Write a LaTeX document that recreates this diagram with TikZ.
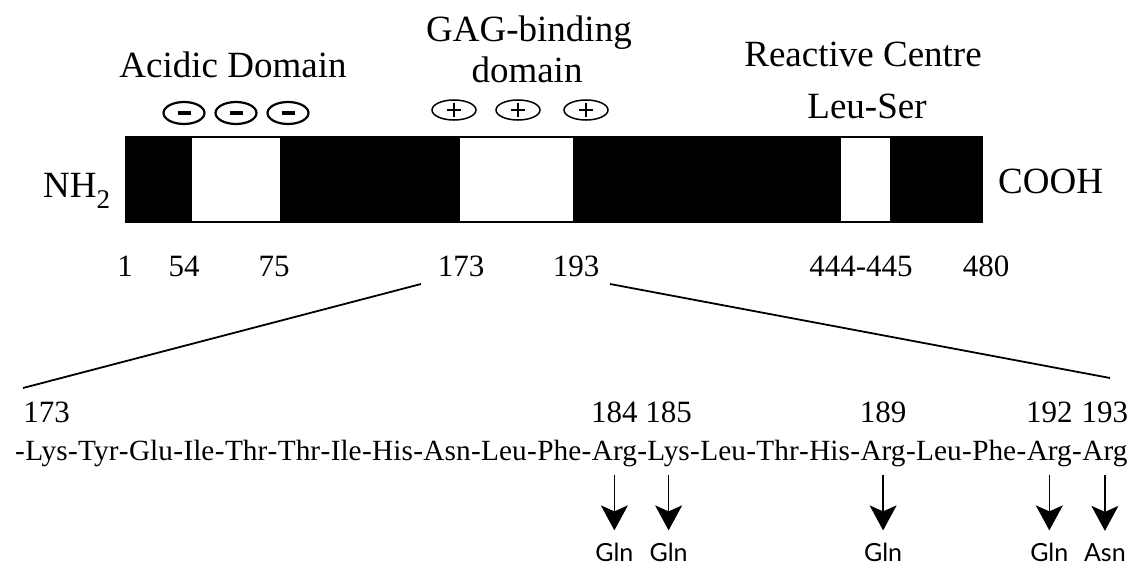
\documentclass[tikz,border=0pt]{standalone}
\usepackage{fontspec}
\setmainfont{Liberation Serif}
\newfontfamily\subsfont{Lato}
\usetikzlibrary{arrows.meta,shapes.geometric}

\tikzset{
  heading/.style={font=\fontsize{37}{40}\selectfont, inner sep=0pt, anchor=base},
  endlabel/.style={font=\fontsize{37}{40}\selectfont, inner sep=0pt, anchor=base west},
  posnum/.style={font=\fontsize{31}{34}\selectfont, inner sep=0pt, anchor=base},
  residue/.style={font=\fontsize{29.3}{32}\selectfont, inner sep=0pt, anchor=base west},
  subst/.style={font=\subsfont\fontsize{25}{28}\selectfont, inner sep=0pt, anchor=base},
  negcharge/.style={draw, ellipse, line width=2.2pt, minimum width=41pt,
    minimum height=22pt, inner sep=0pt,
    path picture={\fill ([xshift=-6.5pt,yshift=-1.8pt]path picture bounding box.center)
      rectangle ([xshift=6.5pt,yshift=1.8pt]path picture bounding box.center);}},
  poscharge/.style={draw, ellipse, line width=1.5pt, minimum width=44pt,
    minimum height=20pt, inner sep=0pt,
    path picture={\draw[line width=1.5pt]
      ([xshift=-7pt]path picture bounding box.center) -- ([xshift=7pt]path picture bounding box.center)
      ([yshift=-7pt]path picture bounding box.center) -- ([yshift=7pt]path picture bounding box.center);}},
  zoomline/.style={line width=1.8pt},
  mutation/.style={line width=1.3pt, -{Stealth[length=25pt,width=27pt,inset=6pt]}},
}

\begin{document}
\begin{tikzpicture}[x=1pt,y=-1pt]
\useasboundingbox (0,0) rectangle (1137,567);

% protein bar with its three marked regions
\fill[black] (125,136) rectangle (983,223);
\fill[white] (192,138) rectangle (280,221);
\fill[white] (460,138) rectangle (573,221);
\fill[white] (841,138) rectangle (890,221);

% region titles
\node[heading] (acidic) at (233,78) {Acidic Domain};
\node[heading] (gag1) at (529,42) {GAG-binding};
\node[heading] (gag2) at (527,83) {domain};
\node[heading] (rc1) at (863,67) {Reactive Centre};
\node[heading] (rc2) at (867,118) {Leu-Ser};

% charges
\node[negcharge] (m1) at (184,113) {};
\node[negcharge] (m2) at (236,113) {};
\node[negcharge] (m3) at (288,113) {};
\node[poscharge] (p1) at (454,110) {};
\node[poscharge] (p2) at (518,110) {};
\node[poscharge] (p3) at (586,110) {};

% termini
\node[endlabel] (nterm) at (43,197) {NH\raisebox{-0.3em}{\fontsize{27}{30}\selectfont 2}};
\node[endlabel] (cterm) at (998,193) {COOH};

% residue numbers along the bar
\node[posnum] (n1) at (125,276) {1};
\node[posnum] (n54) at (184,276) {54};
\node[posnum] (n75) at (274,276) {75};
\node[posnum] (n173) at (461,276) {173};
\node[posnum] (n193) at (576,276) {193};
\node[posnum] (n444) at (861,276) {444-445};
\node[posnum] (n480) at (986,276) {480};

% expansion of the GAG-binding stretch
\coordinate (zl-top) at (421,284);
\coordinate (zl-bot) at (23,388);
\coordinate (zr-top) at (610,284);
\coordinate (zr-bot) at (1110,378);
\draw[zoomline] (zl-top) -- (zl-bot);
\draw[zoomline] (zr-top) -- (zr-bot);

% sequence 173-193
\coordinate (r0) at (15,460);
\foreach \res [count=\i] in {Lys,Tyr,Glu,Ile,Thr,Thr,Ile,His,Asn,Leu,Phe,Arg,Lys,Leu,Thr,His,Arg,Leu,Phe,Arg,Arg}{
  \pgfmathtruncatemacro\prev{\i-1}
  \node[residue] (h\i) at (r\prev.base east) {-};
  \node[residue] (r\i) at (h\i.base east) {\res};
}

% numbers above the sequence
\path (r1.base) ++(0,-38) node[posnum] (s173) {173};
\path (r12.base) ++(0,-38) node[posnum] (s184) {184};
\path (r13.base) ++(0,-38) node[posnum] (s185) {185};
\path (r17.base) ++(0,-38) node[posnum] (s189) {189};
\path (r20.base) ++(0,-38) node[posnum] (s192) {192};
\path (r21.base) ++(0,-38) node[posnum] (s193) {193};

% substitutions
\path (r12.base) ++(0,101) node[subst] (g184) {Gln};
\path (r13.base) ++(0,101) node[subst] (g185) {Gln};
\path (r17.base) ++(0,101) node[subst] (g189) {Gln};
\path (r20.base) ++(0,101) node[subst] (g192) {Gln};
\path (r21.base) ++(0,101) node[subst] (g193) {Asn};

\foreach \a/\b in {r12/g184,r13/g185,r17/g189,r20/g192,r21/g193}{
  \draw[mutation] ([yshift=-8pt]\a.south) -- ([yshift=12pt]\b.north);
}
\end{tikzpicture}
\end{document}
